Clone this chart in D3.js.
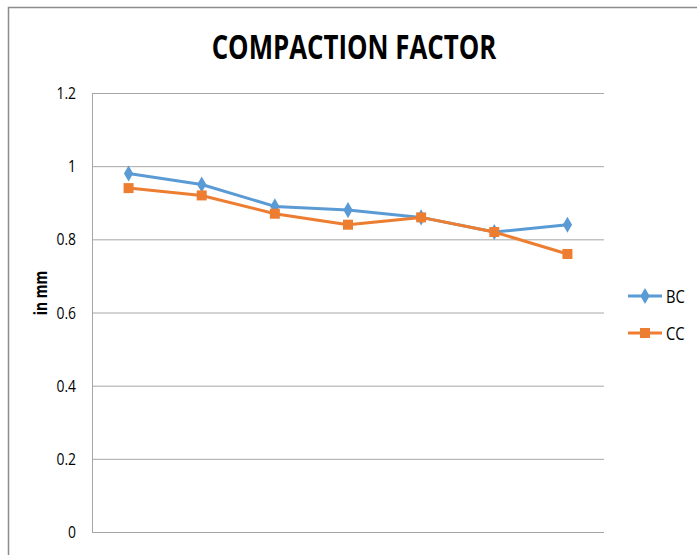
<!DOCTYPE html>
<html>
<head>
<meta charset="utf-8">
<script src="https://cdn.jsdelivr.net/npm/d3@7"></script>
<style>
  html, body { margin: 0; padding: 0; background: #fff; }
  svg { display: block; }
  text { font-family: "Open Sans", "Liberation Sans", sans-serif; }
</style>
</head>
<body>
<svg id="chart" width="697" height="555"></svg>
<script>
// Test positions 1..7 along the x axis (no labels shown)
const categories = ["1", "2", "3", "4", "5", "6", "7"];
const bcValues = [0.98, 0.95, 0.89, 0.88, 0.86, 0.82, 0.84];
const ccValues = [0.94, 0.92, 0.87, 0.84, 0.86, 0.82, 0.76];
const yTicks = [0, 0.2, 0.4, 0.6, 0.8, 1, 1.2];
const seriesNames = ["BC", "CC"];

const series = [
  { name: seriesNames[0], values: bcValues, color: "#5B9BD5", marker: "diamond" },
  { name: seriesNames[1], values: ccValues, color: "#ED7D31", marker: "square" }
];

const svg = d3.select("#chart");
const plot = { left: 92, right: 604, top: 93, bottom: 532 };
const narrow = 0.82; // horizontal squeeze for a condensed look

// Outer chart frame
svg.append("path")
  .attr("d", "M8.5,555 L8.5,7.5 L697,7.5")
  .attr("fill", "none")
  .attr("stroke", "#8c8c8c")
  .attr("stroke-width", 1.5);

const x = d3.scaleBand().domain(categories).range([plot.left, plot.right]);
const y = d3.scaleLinear().domain([0, 1.2]).range([plot.bottom, plot.top]);

// Horizontal gridlines
const yAxis = d3.axisLeft(y).tickValues(yTicks).tickSize(-(plot.right - plot.left)).tickFormat("");
const gy = svg.append("g").attr("transform", `translate(${plot.left},0)`).call(yAxis);
gy.select(".domain").remove();
gy.selectAll(".tick line").attr("stroke", "#a6a6a6").attr("stroke-width", 1);

// Y tick labels
svg.append("g").selectAll("text")
  .data(yTicks)
  .join("text")
  .attr("transform", d => `translate(76,${y(d) + 6}) scale(${narrow},1)`)
  .attr("text-anchor", "end")
  .style("font-size", "17px")
  .text(d => d3.format("~g")(d));

// Vertical value axis line
svg.append("line")
  .attr("x1", plot.left + 0.5).attr("x2", plot.left + 0.5)
  .attr("y1", plot.top).attr("y2", plot.bottom)
  .attr("stroke", "#a6a6a6");

// Title
svg.append("text")
  .attr("transform", "translate(354,59) scale(0.76,1)")
  .attr("text-anchor", "middle")
  .style("font-size", "34px").style("font-weight", "bold")
  .text("COMPACTION FACTOR");

// Y axis title
svg.append("text")
  .attr("transform", `translate(47,293) rotate(-90) scale(${narrow},1)`)
  .attr("text-anchor", "middle")
  .style("font-size", "17px").style("font-weight", "bold")
  .text("in mm");

const cx = c => x(c) + x.bandwidth() / 2;
const line = d3.line().x((d, i) => cx(categories[i])).y(d => y(d));

const markerPath = (type) => type === "diamond"
  ? d3.symbol(d3.symbolDiamond, 75)()
  : d3.symbol(d3.symbolSquare, 100)();

series.forEach(s => {
  svg.append("path")
    .datum(s.values)
    .attr("d", line)
    .attr("fill", "none")
    .attr("stroke", s.color)
    .attr("stroke-width", 3)
    .attr("stroke-linejoin", "round");
  svg.append("g").selectAll("path")
    .data(s.values)
    .join("path")
    .attr("d", markerPath(s.marker))
    .attr("transform", (d, i) => `translate(${cx(categories[i])},${y(d)})`)
    .attr("fill", s.color);
});

// Legend
const legend = svg.append("g");
series.forEach((s, i) => {
  const ly = 296 + i * 37;
  legend.append("line")
    .attr("x1", 628).attr("x2", 662).attr("y1", ly).attr("y2", ly)
    .attr("stroke", s.color).attr("stroke-width", 3);
  legend.append("path")
    .attr("d", markerPath(s.marker))
    .attr("transform", `translate(645,${ly})`)
    .attr("fill", s.color);
  legend.append("text")
    .attr("transform", `translate(666,${ly + 7}) scale(${narrow},1)`)
    .style("font-size", "18px")
    .text(s.name);
});
</script>
</body>
</html>
